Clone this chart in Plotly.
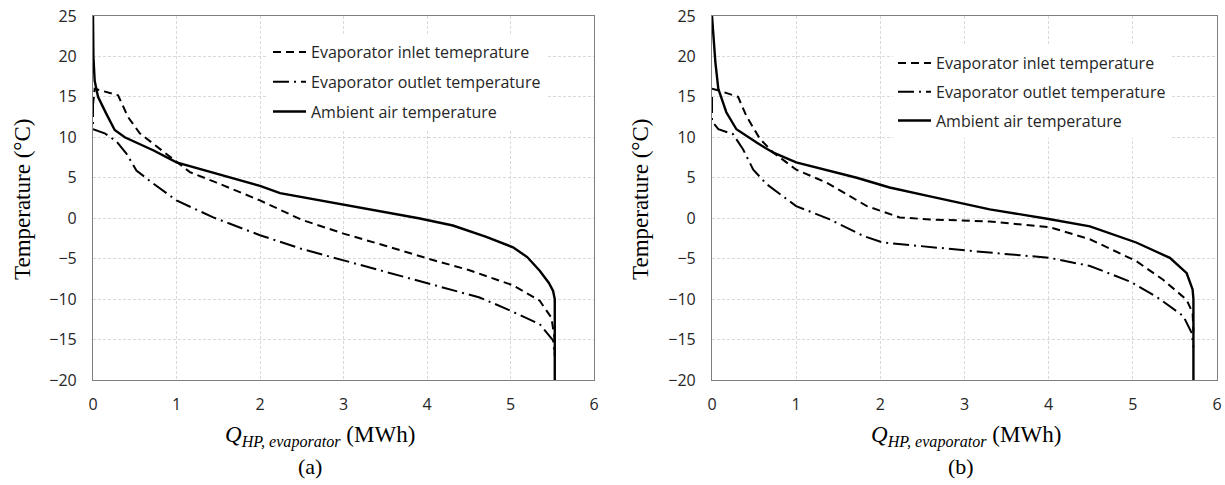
import plotly.graph_objects as go

# ---------------- data ----------------
a_amb_x = [0, 0.005, 0.02, 0.06, 0.16, 0.26, 0.38, 0.72, 1.0, 1.64, 2.0, 2.24, 2.72, 3.32, 3.9, 4.31, 4.71, 5.03, 5.2, 5.35, 5.46, 5.51, 5.53, 5.53]
a_amb_y = [25, 20, 17, 15, 12.9, 10.9, 10.0, 8.4, 6.9, 5.1, 4.0, 3.1, 2.2, 1.0, 0.0, -0.9, -2.3, -3.6, -4.8, -6.5, -8.0, -9.0, -10, -20]
a_in_x = [0, 0.02, 0.3, 0.42, 0.56, 0.88, 1.16, 1.48, 2.0, 2.5, 3.0, 3.5, 4.08, 4.5, 5.03, 5.35, 5.49, 5.53, 5.53]
a_in_y = [14, 16, 15.2, 12.5, 10.5, 8.0, 5.7, 4.4, 2.2, -0.2, -1.9, -3.4, -5.2, -6.4, -8.3, -10.2, -12.3, -15, -17]
a_out_x = [0, 0, 0.14, 0.28, 0.4, 0.52, 0.72, 1.0, 1.44, 2.0, 2.5, 3.0, 3.5, 4.08, 4.63, 4.95, 5.35, 5.51, 5.53]
a_out_y = [14.5, 11, 10.5, 9.5, 8.0, 5.9, 4.3, 2.2, 0.1, -2.1, -3.8, -5.2, -6.6, -8.3, -9.8, -11.2, -13.1, -15.1, -17]

b_amb_x = [0, 0.02, 0.04, 0.075, 0.17, 0.29, 0.53, 0.73, 1.0, 1.72, 2.11, 2.59, 3.3, 4.0, 4.49, 5.04, 5.44, 5.64, 5.71, 5.72, 5.72]
b_amb_y = [25, 22, 19.3, 16, 13.1, 11.0, 9.35, 8.1, 6.9, 5.0, 3.8, 2.7, 1.1, -0.1, -1.0, -3.0, -4.9, -6.8, -8.8, -10, -20]
b_in_x = [0, 0.08, 0.31, 0.41, 0.57, 0.73, 1.0, 1.36, 1.84, 2.23, 2.59, 3.3, 4.01, 4.49, 5.04, 5.36, 5.64, 5.71, 5.72]
b_in_y = [16, 15.8, 15.0, 12.6, 9.8, 8.1, 6.0, 4.4, 1.5, 0.1, -0.15, -0.4, -1.1, -2.6, -5.3, -7.6, -10.1, -11.7, -14]
b_out_x = [0, 0, 0.075, 0.25, 0.37, 0.49, 0.65, 1.0, 1.4, 1.8, 2.03, 2.59, 3.14, 4.01, 4.49, 4.96, 5.28, 5.6, 5.70, 5.72]
b_out_y = [15, 12, 11, 10.4, 8.5, 6.0, 4.2, 1.5, -0.15, -2.2, -3.0, -3.6, -4.1, -4.9, -5.9, -7.8, -9.7, -12.1, -14.2, -16]

names_a = ["Evaporator inlet temeprature", "Evaporator outlet temperature", "Ambient air temperature"]
names_b = ["Evaporator inlet temperature", "Evaporator outlet temperature", "Ambient air temperature"]
x_ticks = [0, 1, 2, 3, 4, 5, 6]
y_ticks = [25, 20, 15, 10, 5, 0, -5, -10, -15, -20]

# ---------------- figure ----------------
W, H = 1225, 485
fig = go.Figure()

dash_in = "8px,5px"
dash_out = "16px,5px,2px,5px"

def add_set(xs, ys, names, xa, ya, leg, grp):
    styles = [dict(dash=dash_in, width=2), dict(dash=dash_out, width=2), dict(dash="solid", width=2.4)]
    for i, (x, y, n) in enumerate(zip(xs, ys, names)):
        fig.add_trace(go.Scatter(
            x=x, y=y, name=n, mode="lines", xaxis=xa, yaxis=ya, legend=leg,
            legendgroup=f"{grp}{i}",
            line=dict(color="black", **styles[i]),
        ))

add_set([a_in_x, a_out_x, a_amb_x], [a_in_y, a_out_y, a_amb_y], names_a, "x", "y", "legend", "a")
add_set([b_in_x, b_out_x, b_amb_x], [b_in_y, b_out_y, b_amb_y], names_b, "x2", "y2", "legend2", "b")

sans = "Open Sans, Lato, sans-serif"
tick_font = dict(family=sans, size=16, color="#262626")
grid = dict(showgrid=True, gridcolor="#d9d9d9", gridwidth=1, griddash="3px,2px",
            showline=True, linecolor="#7f7f7f", linewidth=1.2, mirror=True,
            zeroline=False, ticks="", tickfont=tick_font, automargin=False)

xa = dict(range=[0, 6], tickvals=x_ticks, ticklabelstandoff=10, **grid)
ya = dict(range=[-20, 25], tickvals=y_ticks, ticklabelstandoff=12, **grid)

leg_font = dict(family=sans, size=16, color="#262626")
fig.update_layout(
    width=W, height=H,
    margin=dict(l=0, r=0, t=16, b=105, autoexpand=False),
    paper_bgcolor="white", plot_bgcolor="white",
    xaxis=dict(domain=[93 / W, 594 / W], anchor="y", **xa),
    yaxis=dict(domain=[0, 1], anchor="x", **ya),
    xaxis2=dict(domain=[712 / W, 1217 / W], anchor="y2", **xa),
    yaxis2=dict(domain=[0, 1], anchor="x2", **ya),
    legend=dict(x=268 / W, y=1 - (35 - 16) / 364, xanchor="left", yanchor="top",
                bgcolor="white", borderwidth=0, font=leg_font,
                tracegroupgap=6, traceorder="grouped", itemwidth=33),
    legend2=dict(x=893 / W, y=1 - (46 - 16) / 364, xanchor="left", yanchor="top",
                 bgcolor="white", borderwidth=0, font=leg_font,
                 tracegroupgap=5, traceorder="grouped", itemwidth=33),
    showlegend=True,
)

serif = "Liberation Serif, Times New Roman, serif"
xtitle = "<i>Q</i><sub><i>HP, evaporator</i></sub> (MWh)"
ann = [
    dict(text="Temperature (°C)", x=22 / W, y=(380 - 200) / 364, textangle=-90, font=dict(family=serif, size=23, color="black")),
    dict(text="Temperature (°C)", x=640 / W, y=(380 - 200) / 364, textangle=-90, font=dict(family=serif, size=23, color="black")),
    dict(text=xtitle, x=320 / W, y=(380 - 437) / 364, font=dict(family=serif, size=23, color="black")),
    dict(text=xtitle, x=966 / W, y=(380 - 437) / 364, font=dict(family=serif, size=23, color="black")),
    dict(text="(a)", x=310 / W, y=(380 - 466) / 364, font=dict(family=serif, size=22, color="black")),
    dict(text="(b)", x=961 / W, y=(380 - 466) / 364, font=dict(family=serif, size=22, color="black")),
]
for a in ann:
    fig.add_annotation(xref="paper", yref="paper", showarrow=False, xanchor="center", yanchor="middle", **a)

fig.write_html("out.html", config={"displayModeBar": False},
               post_script="document.body.style.margin='0';document.body.style.overflow='hidden';")
